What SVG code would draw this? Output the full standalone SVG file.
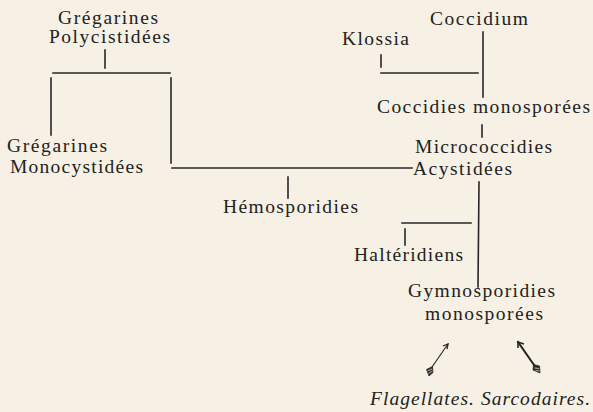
<svg xmlns="http://www.w3.org/2000/svg" width="593" height="412" viewBox="0 0 593 412">
<style>
.t{font-family:"Liberation Serif","Times New Roman",serif;font-size:19.5px;fill:#222}
.i{font-style:italic}
.c line{stroke:#262626;stroke-width:1.6;stroke-linecap:square}
.a{stroke:#262626;fill:none;stroke-width:1.3}
.f{fill:#2a2a2a;stroke:#2a2a2a;stroke-width:0.8;stroke-linejoin:round}
.fl{stroke:#f6f1e4;stroke-width:0.7}
</style>
<rect width="593" height="412" fill="#f6f1e4"/>
<g id="gregarines-polycistidees"><text class="t" x="58" y="24" textLength="100" lengthAdjust="spacing">Grégarines</text><text class="t" x="49" y="43" textLength="121" lengthAdjust="spacing">Polycistidées</text></g>
<g id="gregarines-monocystidees"><text class="t" x="7" y="152" textLength="100" lengthAdjust="spacing">Grégarines</text><text class="t" x="10" y="173" textLength="133" lengthAdjust="spacing">Monocystidées</text></g>
<g id="hemosporidies"><text class="t" x="223" y="213" textLength="135" lengthAdjust="spacing">Hémosporidies</text></g>
<g id="coccidium"><text class="t" x="430" y="25" textLength="98" lengthAdjust="spacing">Coccidium</text></g>
<g id="klossia"><text class="t" x="342" y="45" textLength="67" lengthAdjust="spacing">Klossia</text></g>
<g id="coccidies-monosporees"><text class="t" x="377" y="113" textLength="213" lengthAdjust="spacing">Coccidies monosporées</text></g>
<g id="micrococcidies-acystidees"><text class="t" x="415" y="153" textLength="137" lengthAdjust="spacing">Micrococcidies</text><text class="t" x="413" y="175" textLength="99" lengthAdjust="spacing">Acystidées</text></g>
<g id="halteridiens"><text class="t" x="354" y="261" textLength="109" lengthAdjust="spacing">Haltéridiens</text></g>
<g id="gymnosporidies-monosporees"><text class="t" x="408" y="297" textLength="147" lengthAdjust="spacing">Gymnosporidies</text><text class="t" x="425" y="320" textLength="118" lengthAdjust="spacing">monosporées</text></g>
<g id="flagellates-sarcodaires"><text class="t i" x="370" y="405" textLength="220" lengthAdjust="spacing">Flagellates. Sarcodaires.</text></g>
<g id="connectors" class="c">
<line x1="105" y1="50" x2="105" y2="68"/>
<line x1="53" y1="73" x2="170" y2="73"/>
<line x1="51" y1="78" x2="51" y2="135"/>
<line x1="171" y1="78" x2="171" y2="163"/>
<line x1="172" y1="168" x2="412" y2="168"/>
<line x1="288" y1="177" x2="288" y2="198"/>
<line x1="381" y1="55" x2="381" y2="67"/>
<line x1="381" y1="73" x2="478" y2="73"/>
<line x1="483" y1="32" x2="483" y2="97"/>
<line x1="482" y1="125" x2="482" y2="137"/>
<line x1="479" y1="182" x2="478" y2="287"/>
<line x1="402" y1="223" x2="471" y2="223"/>
<line x1="405" y1="229" x2="405" y2="245"/>
<g id="arrow-flagellates">
<line x1="432" y1="367" x2="448" y2="344" style="stroke-width:1.1"/>
<path class="a" d="M443,346 L448,344 L447,349"/>
<path class="f" d="M432.5,366.5 L433,372.5 L429,376 L426.5,369.5 Z"/>
<path class="fl" d="M427.5,371 L432,369 M428.5,373.5 L432.5,371"/>
</g>
<g id="arrow-sarcodaires">
<line x1="534" y1="365" x2="518" y2="342" style="stroke-width:2"/>
<path class="a" style="stroke-width:1.6" d="M518,348 L518,342 L524,344"/>
<path class="f" d="M533.5,364.5 L539.5,366 L540,373 L533,370 Z"/>
<path class="fl" d="M534.5,368 L539,368.5 M535.5,370.5 L539.5,371"/>
</g>
</g>
</svg>
